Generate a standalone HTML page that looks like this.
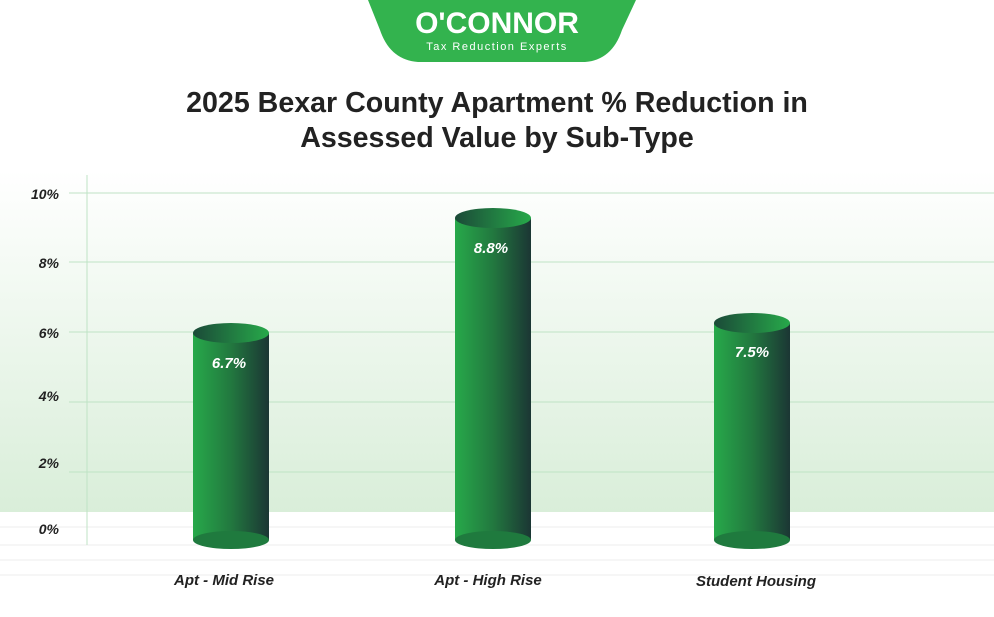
<!DOCTYPE html>
<html><head><meta charset="utf-8"><style>
body{margin:0;width:994px;height:612px;overflow:hidden;background:#fff;font-family:"Liberation Sans",sans-serif}
</style></head><body>
<svg width="994" height="612" viewBox="0 0 994 612" xmlns="http://www.w3.org/2000/svg">
<defs>
<linearGradient id="bg" x1="0" y1="0" x2="0" y2="1">
<stop offset="0" stop-color="#ffffff"/><stop offset="1" stop-color="#d9eed9"/></linearGradient>
<linearGradient id="cyl" x1="0" y1="0" x2="1" y2="0">
<stop offset="0" stop-color="#27a94a"/><stop offset="0.5" stop-color="#22783f"/><stop offset="1" stop-color="#1b3634"/></linearGradient>
<linearGradient id="top" x1="0" y1="0" x2="1" y2="0">
<stop offset="0" stop-color="#1b4a38"/><stop offset="1" stop-color="#27a94a"/></linearGradient>
</defs>
<rect x="0" y="170" width="994" height="342" fill="url(#bg)"/>
<g stroke="#eeeeee" stroke-width="1">
<line x1="0" y1="527" x2="994" y2="527"/><line x1="0" y1="545" x2="994" y2="545"/><line x1="0" y1="575" x2="994" y2="575"/>
<line x1="0" y1="560" x2="994" y2="560"/>
</g>
<g stroke="#bfe3c5" stroke-width="1">
<line x1="69" y1="193" x2="994" y2="193"/><line x1="69" y1="262" x2="994" y2="262"/>
<line x1="69" y1="332" x2="994" y2="332"/><line x1="69" y1="402" x2="994" y2="402"/>
<line x1="69" y1="472" x2="994" y2="472"/>
<line x1="87" y1="175" x2="87" y2="545"/>
</g>
<g font-size="14" font-weight="bold" font-style="italic" fill="#222" text-anchor="end">
<text x="59" y="199">10%</text><text x="59" y="268">8%</text><text x="59" y="338">6%</text>
<text x="59" y="401">4%</text><text x="59" y="468">2%</text><text x="59" y="534">0%</text>
</g>
<path d="M368 0 H636 L622 30 Q612 60 585 62 H418 Q390 60 380 30 Z" fill="#33b34e"/>
<text x="497" y="33" font-size="30" font-weight="bold" fill="#fff" text-anchor="middle">O'CONNOR</text>
<text x="497" y="50" font-size="11" fill="#fff" text-anchor="middle" letter-spacing="1.5">Tax Reduction Experts</text>
<text x="497" y="112" font-size="28.6" font-weight="bold" fill="#222" text-anchor="middle">2025 Bexar County Apartment % Reduction in</text>
<text x="497" y="147" font-size="28.6" font-weight="bold" fill="#222" text-anchor="middle">Assessed Value by Sub-Type</text>
<g>
<rect x="193" y="333" width="76" height="207" fill="url(#cyl)"/><ellipse cx="231" cy="540" rx="38" ry="9" fill="#1f7a3e"/><ellipse cx="231" cy="333" rx="38" ry="10" fill="url(#top)"/>
<rect x="455" y="218" width="76" height="322" fill="url(#cyl)"/><ellipse cx="493" cy="540" rx="38" ry="9" fill="#1f7a3e"/><ellipse cx="493" cy="218" rx="38" ry="10" fill="url(#top)"/>
<rect x="714" y="323" width="76" height="217" fill="url(#cyl)"/><ellipse cx="752" cy="540" rx="38" ry="9" fill="#1f7a3e"/><ellipse cx="752" cy="323" rx="38" ry="10" fill="url(#top)"/>
</g>
<g font-size="15" font-weight="bold" font-style="italic" fill="#fff" text-anchor="middle">
<text x="229" y="368">6.7%</text><text x="491" y="253">8.8%</text><text x="752" y="357">7.5%</text>
</g>
<g font-size="15" font-weight="bold" font-style="italic" fill="#222" text-anchor="middle">
<text x="224" y="585">Apt - Mid Rise</text><text x="488" y="585">Apt - High Rise</text><text x="756" y="586">Student Housing</text>
</g>
</svg>
</body></html>
